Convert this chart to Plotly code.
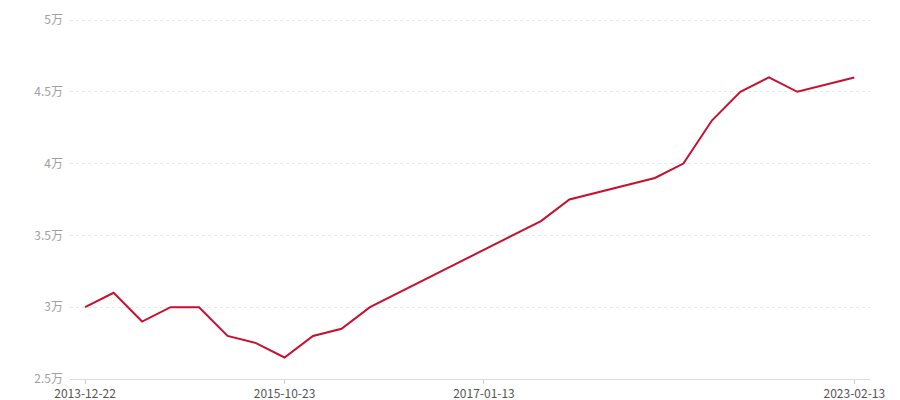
import plotly.graph_objects as go

dates = [
    "2013-12-22", "2014-03-15", "2014-06-10", "2014-09-05", "2014-12-20",
    "2015-03-18", "2015-07-02", "2015-10-23", "2015-12-10", "2016-02-20",
    "2016-04-15", "2016-06-08", "2016-08-01", "2016-10-22", "2017-01-13",
    "2017-06-20", "2017-11-05", "2018-04-12", "2018-09-18", "2019-02-25",
    "2019-07-30", "2020-01-08", "2020-07-15", "2021-01-20", "2021-07-05",
    "2022-01-10", "2022-07-22", "2023-02-13",
]
values = [
    30000, 31000, 29000, 30000, 30000, 28000, 27500, 26500, 28000, 28500,
    30000, 31000, 32000, 33000, 34000, 35000, 36000, 37500, 38000, 38500,
    39000, 40000, 43000, 45000, 46000, 45000, 45500, 46000,
]
x_ticks = ["2013-12-22", "2015-10-23", "2017-01-13", "2023-02-13"]
y_ticks = [25000, 30000, 35000, 40000, 45000, 50000]
y_tick_text = ["2.5万", "3万", "3.5万", "4万", "4.5万", "5万"]

FONT = "Noto Sans CJK SC, Microsoft YaHei, sans-serif"

fig = go.Figure(
    go.Scatter(
        x=dates, y=values, mode="lines",
        line=dict(color="#c8102e", width=2),
        hoverinfo="x+y",
    )
)

fig.update_layout(
    width=900, height=400,
    margin=dict(l=62, r=38, t=11, b=29),
    paper_bgcolor="white", plot_bgcolor="white",
    showlegend=False,
    font=dict(family=FONT, size=12, color="#999"),
)
fig.update_xaxes(
    type="category", automargin=False,
    range=[-0.53, len(dates) - 1 + 0.55],
    tickmode="array", tickvals=x_ticks, ticktext=x_ticks,
    showgrid=False, showline=True, linecolor="#dcdcdc", linewidth=1,
    ticks="outside", ticklen=4, tickcolor="#cccccc", tickwidth=1,
    tickfont=dict(color="#555", size=12, family=FONT),
    zeroline=False,
)
fig.update_yaxes(
    automargin=False,
    range=[25000, 50070],
    tickmode="array", tickvals=y_ticks, ticktext=y_tick_text,
    showgrid=True, gridcolor="#e8e8e8", griddash="3px,3px", gridwidth=1,
    showline=False, zeroline=False, ticks="",
    tickfont=dict(color="#a0a0a0", size=12, family=FONT),
    ticklabelstandoff=6,
)

fig.write_html("out.html")
